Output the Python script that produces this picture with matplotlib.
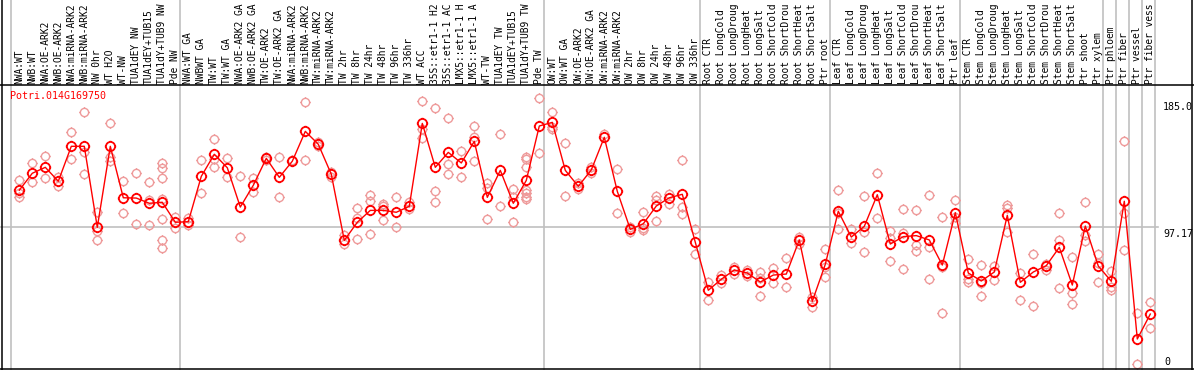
import numpy as np
import matplotlib.pyplot as plt
from matplotlib.path import Path
from matplotlib.lines import Line2D
from matplotlib.transforms import blended_transform_factory

# column labels (one per sample)
labels = [
    "NWA:WT", "NWB:WT", "NWA:OE-ARK2", "NWB:OE-ARK2", "NWA:miRNA-ARK2", "NWB:miRNA-ARK2",
    "NW 0hr", "WT H2O", "WT-NW", "TUA1dEY NW", "TUA1dEY+TUB15", "TUA1dY+TUB9 NW", "Pde NW",
    "NWA:WT GA", "NWBWT GA", "TW:WT", "TW:WT GA", "NWA:OE-ARK2 GA", "NWB:OE-ARK2 GA",
    "TW:OE-ARK2", "TW:OE-ARK2 GA", "NWA:miRNA-ARK2", "NWB:miRNA-ARK2", "TW:miRNA-ARK2",
    "TW:miRNA-ARK2", "TW 2hr", "TW 8hr", "TW 24hr", "TW 48hr", "TW 96hr", "TW 336hr",
    "WT ACC", "35S::etr1-1 H2O", "35S::etr1-1 ACC", "LMX5::etr1-1 H2O", "LMX5::etr1-1 ACC",
    "WT-TW", "TUA1dEY TW", "TUA1dEY+TUB15", "TUA1dY+TUB9 TW", "Pde TW",
    "OW:WT", "OW:WT GA", "OW:OE-ARK2", "OW:OE-ARK2 GA", "OW:miRNA-ARK2", "OW:miRNA-ARK2",
    "OW 2hr", "OW 8hr", "OW 24hr", "OW 48hr", "OW 96hr", "OW 336hr",
    "Root CTR", "Root LongCold", "Root LongDrought", "Root LongHeat", "Root LongSalt",
    "Root ShortCold", "Root ShortDrought", "Root ShortHeat", "Root ShortSalt", "Ptr root",
    "Leaf CTR", "Leaf LongCold", "Leaf LongDrought", "Leaf LongHeat", "Leaf LongSalt",
    "Leaf ShortCold", "Leaf ShortDrought", "Leaf ShortHeat", "Leaf ShortSalt", "Ptr leaf",
    "Stem CTR", "Stem LongCold", "Stem LongDrought", "Stem LongHeat", "Stem LongSalt",
    "Stem ShortCold", "Stem ShortDrought", "Stem ShortHeat", "Stem ShortSalt",
    "Ptr shoot", "Ptr xylem", "Ptr phloem", "Ptr fiber", "Ptr vessel", "Ptr fiber vessel",
]

# mean expression per column
means = [
    122.6, 134.3, 138.4, 128.8, 152.9, 152.9, 97.0, 152.9, 117.4, 117.2, 113.6, 114.3, 100.5,
    100.9, 132.2, 147.4, 138.1, 111.0, 126.0, 144.6, 131.5, 142.6, 163.2, 154.3, 133.6,
    88.0, 100.5, 108.7, 108.7, 107.4, 111.5, 168.7, 138.4, 148.7, 141.4, 156.3, 117.7,
    136.3, 113.6, 129.4, 166.9,
    169.4, 136.3, 125.3, 136.6, 159.1, 121.8, 95.6, 99.5, 111.7, 117.4, 119.8, 86.7,
    53.6, 61.2, 67.6, 65.5, 59.3, 64.1, 64.8, 88.3, 46.0, 71.5,
    108.1, 90.3, 97.7, 119.5, 85.5, 90.6, 91.3, 88.3, 71.0, 107.1,
    65.5, 60.0, 66.2, 105.3, 59.1, 66.2, 70.6, 83.2, 57.2, 97.9, 70.3,
    59.8, 115.0, 20.0, 37.2,
]

# individual replicates per column
reps = [
    [129.7, 120.5, 117.7], [141.2, 128.1], [146.2, 130.8], [131.9, 125.3], [162.5, 143.9],
    [176.3, 149.2, 133.8], [107.4, 94.5, 88.3], [169.0, 145.7, 143.0], [129.0, 106.7],
    [134.5, 99.1], [128.3, 115.9, 98.6], [141.2, 137.7, 130.8, 116.6, 102.5, 88.3, 82.6],
    [104.4, 96.8],
    [103.7, 98.6], [143.4, 120.5], [157.9, 143.9, 138.8], [144.6, 131.9], [132.2, 90.3],
    [130.8, 121.6], [145.7, 143.4], [145.3, 117.7], [143.4], [183.2, 143.4], [155.6, 153.1],
    [135.4, 131.9], [91.7, 85.5], [110.1, 103.7, 88.8], [119.1, 115.0, 92.2],
    [112.9, 111.7, 102.1], [117.9, 97.0], [114.5, 109.4], [183.9, 164.6, 158.8],
    [179.1, 122.1, 114.5], [172.2, 140.7, 133.6], [149.7, 131.5], [166.9, 159.5, 142.8],
    [127.4, 123.9, 102.5], [161.4, 111.5], [123.4, 118.2, 100.5],
    [145.7, 144.1, 138.4, 122.8, 120.5, 118.2, 116.6], [186.2, 148.1],
    [176.3, 166.0, 164.6], [155.0, 118.6], [127.4, 123.2], [138.8, 134.3], [161.4],
    [137.2, 106.7], [97.4, 94.0], [107.6, 96.8, 95.2], [118.6, 115.9, 101.4], [120.2, 113.1],
    [143.4, 111.3, 106.2], [95.9, 78.6],
    [59.1, 46.7], [64.1, 58.4], [69.4, 64.6], [67.6, 63.7], [66.4, 62.3, 49.7], [69.2, 58.4],
    [75.6, 55.6], [90.6, 85.5], [49.2, 41.9], [81.9, 69.9, 62.5],
    [122.8, 106.7, 95.6], [95.6, 86.0], [118.6, 94.0, 79.8], [134.3, 103.2], [94.3, 89.9, 73.6],
    [109.4, 93.3, 68.1], [108.7, 84.8, 80.5], [119.1, 83.7, 61.2], [103.9, 69.4, 37.7],
    [115.6, 104.4, 99.8],
    [75.2, 61.4, 59.5], [71.0, 58.4, 49.7], [70.3, 60.7], [112.4, 110.1, 94.0], [65.3, 46.9],
    [78.6, 42.8], [71.7, 67.6], [106.7, 88.3, 55.0], [76.3, 51.9, 44.1], [114.3, 91.7, 87.8],
    [78.6, 72.2, 59.5],
    [67.1, 56.1, 53.8], [156.6, 107.1, 81.4], [37.7, 2.8], [45.5, 27.4],
]

group_ends = [-1, 12, 40, 52, 62, 72, 83, 84, 85, 86, 87]
title = "Potri.014G169750"
y_max, y_mid = 185.0, 97.17

W, H = 1194, 370
px = lambda x: x / W
py = lambda y: 1 - y / H

# circle with four little ticks, like the pixel markers
circ = Path.unit_circle()
verts = list(circ.vertices) + [(0, 1), (0, 1.25), (0, -1), (0, -1.25),
                               (1, 0), (1.25, 0), (-1, 0), (-1.25, 0)]
codes = list(circ.codes) + [Path.MOVETO, Path.LINETO] * 4
mk = Path(verts, codes)

font = dict(family="DejaVu Sans Mono", fontsize=7.2)
red = "#ff0000"
pink = "#ee9a9a"
grey = "#c0c0c0"

fig = plt.figure(figsize=(W / 100, H / 100), dpi=100)
ax = fig.add_axes([0, 2 / H, 1, 283 / H])
ax.axis("off")
ax.set_xlim(-19.3 / 13, (W - 19.3) / 13)
ax.set_ylim(0, 283 / 1.45)

xs = np.arange(len(means))

# separators between sample groups
bt = blended_transform_factory(ax.transData, fig.transFigure)
for e in group_ends:
    fig.add_artist(Line2D([e + 0.385] * 2, [0, 1], color=grey, lw=1.2, transform=bt, zorder=0))
ax.axhline(y_mid, xmin=0, xmax=1158 / W, color=grey, lw=1.2, zorder=0)

# frame
for xy in ([[0, 1], [py(85), py(85)]], [[0, 1], [py(368.5), py(368.5)]],
           [[px(2), px(2)], [0, 1]], [[px(1192), px(1192)], [0, 1]]):
    fig.add_artist(Line2D(xy[0], xy[1], color="black", lw=1.1, transform=fig.transFigure))

for i, vals in enumerate(reps):
    ax.plot([i] * len(vals), vals, ls="none", marker=mk, ms=7.4, mfc="none",
            mec=pink, mew=1.0, clip_on=False, zorder=2)

ax.plot(xs, means, color=red, lw=1.0, clip_on=False, zorder=3)
ax.plot(xs, means, ls="none", marker=mk, ms=8.2, mfc="none", mec=red, mew=1.3,
        clip_on=False, zorder=4)

# the source chart cuts every label to 14 characters
for i, lab in enumerate(labels):
    ax.text(i, py(84), lab[:14], transform=bt, rotation=90, ha="center", va="bottom",
            family="DejaVu Sans Mono", fontsize=6.9)

fig.text(px(10), py(91), title, color=red, ha="left", va="top", **font)
fig.text(px(1163), py(102), f"{y_max:.1f}", ha="left", va="top", **font)
fig.text(px(1163), py(229), f"{y_mid:.2f}", ha="left", va="top", **font)
fig.text(px(1164), py(357), "0", ha="left", va="top", **font)

fig.savefig("out.png", dpi=100)
